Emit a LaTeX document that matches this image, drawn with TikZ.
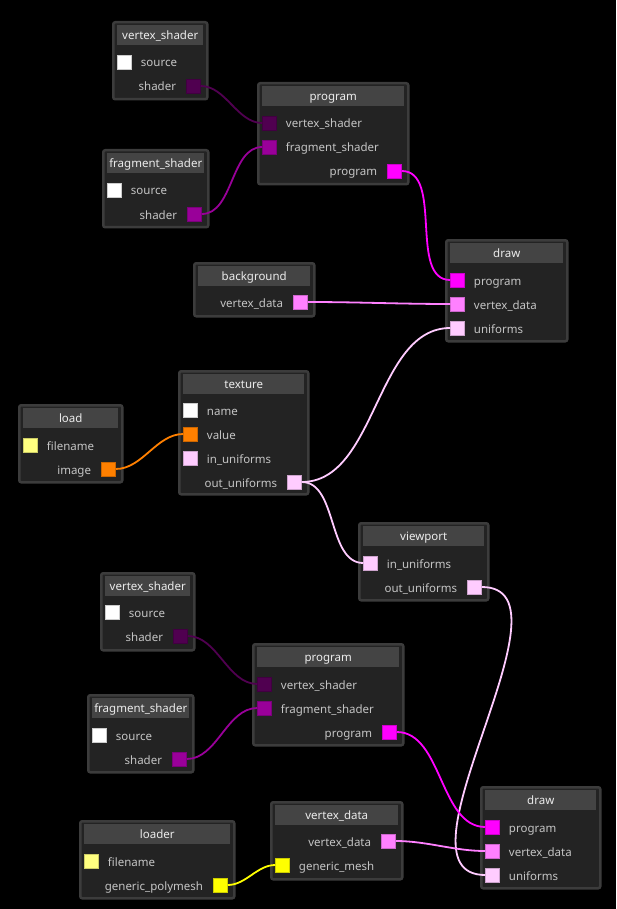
\documentclass[tikz,border=0pt]{standalone}
\usepackage{fontspec}
\setmainfont{Noto Sans}
\usetikzlibrary{positioning,calc}
\definecolor{panel}{HTML}{232323}
\definecolor{rim}{HTML}{3C3C3C}
\definecolor{bar}{HTML}{444444}
\definecolor{txt}{HTML}{C4C4C4}
\definecolor{vsh}{HTML}{500050}
\definecolor{fsh}{HTML}{990099}
\definecolor{prg}{HTML}{FF00FF}
\definecolor{vtx}{HTML}{FF80FF}
\definecolor{uni}{HTML}{FFCCFF}
\definecolor{fname}{HTML}{FFFF80}
\definecolor{img}{HTML}{FF8000}
\definecolor{msh}{HTML}{FFFF00}
\tikzset{
  nodebox/.style={draw=rim,fill=panel,line width=2.5pt,rounded corners=2pt,
    anchor=north west,inner sep=0pt},
  ttl/.style={fill=bar,anchor=north,text=white!92!black,inner sep=0pt,
    font=\fontsize{11.5}{13}\selectfont,minimum height=20pt,text height=8pt,text depth=0pt},
  port/.style={fill=#1,draw=#1!80!black,line width=0.5pt,minimum size=14pt,inner sep=0pt},
  lbl/.style={text=txt,font=\fontsize{11.5}{13}\selectfont,inner sep=0pt,
    text height=10pt,text depth=0pt},
  inlbl/.style={label={[lbl,label distance=9pt]right:#1}},
  outlbl/.style={label={[lbl,label distance=10pt]left:#1}},
  link/.style={draw=#1,line width=1.8pt,out=0,in=180,looseness=0.9},
}
\begin{document}
\begin{tikzpicture}[x=1pt,y=-1pt]
\fill[black] (0,0) rectangle (616,909);
% first pass
\node[nodebox,minimum width=94pt,minimum height=77pt] (vs1) at (112,21) {};
\node[ttl,minimum width=86pt] (vs1t) at ([yshift=-4pt]vs1.north) {vertex\_shader};
\node[port=white,inlbl=source] (vs1-src) at (124.5,62) {};
\node[port=vsh,outlbl=shader] (vs1-out) at (193.5,86) {};

\node[nodebox,minimum width=105pt,minimum height=77pt] (fs1) at (102,149) {};
\node[ttl,minimum width=97pt] (fs1t) at ([yshift=-4pt]fs1.north) {fragment\_shader};
\node[port=white,inlbl=source] (fs1-src) at (114.5,190) {};
\node[port=fsh,outlbl=shader] (fs1-out) at (194.5,214) {};

\node[nodebox,minimum width=150pt,minimum height=101pt] (prog1) at (257,82) {};
\node[ttl,minimum width=142pt] (prog1t) at ([yshift=-4pt]prog1.north) {program};
\node[port=vsh,inlbl=vertex\_shader] (prog1-vs) at (269.5,123) {};
\node[port=fsh,inlbl=fragment\_shader] (prog1-fs) at (269.5,147) {};
\node[port=prg,outlbl=program] (prog1-out) at (394.5,171) {};

\node[nodebox,minimum width=120pt,minimum height=53pt] (bg) at (193,262) {};
\node[ttl,minimum width=112pt] (bgt) at ([yshift=-4pt]bg.north) {background};
\node[port=vtx,outlbl=vertex\_data] (bg-out) at (300.5,302) {};

\node[nodebox,minimum width=121pt,minimum height=101pt] (draw1) at (445,239) {};
\node[ttl,minimum width=113pt] (draw1t) at ([yshift=-4pt]draw1.north) {draw};
\node[port=prg,inlbl=program] (draw1-prog) at (457.5,280) {};
\node[port=vtx,inlbl=vertex\_data] (draw1-vtx) at (457.5,304) {};
\node[port=uni,inlbl=uniforms] (draw1-uni) at (457.5,328) {};

\node[nodebox,minimum width=103pt,minimum height=77pt] (load) at (18,404) {};
\node[ttl,minimum width=95pt] (loadt) at ([yshift=-4pt]load.north) {load};
\node[port=fname,inlbl=filename] (load-fn) at (30.5,445) {};
\node[port=img,outlbl=image] (load-out) at (108.5,469) {};

\node[nodebox,minimum width=129pt,minimum height=123pt] (tex) at (178,370) {};
\node[ttl,minimum width=121pt] (text) at ([yshift=-4pt]tex.north) {texture};
\node[port=white,inlbl=name] (tex-name) at (190.5,410) {};
\node[port=img,inlbl=value] (tex-val) at (190.5,434) {};
\node[port=uni,inlbl=in\_uniforms] (tex-in) at (190.5,458) {};
\node[port=uni,outlbl=out\_uniforms] (tex-out) at (294.5,482) {};

\node[nodebox,minimum width=129pt,minimum height=77pt] (vp) at (358,522) {};
\node[ttl,minimum width=121pt] (vpt) at ([yshift=-4pt]vp.north) {viewport};
\node[port=uni,inlbl=in\_uniforms] (vp-in) at (370.5,563) {};
\node[port=uni,outlbl=out\_uniforms] (vp-out) at (474.5,587) {};
% second pass
\node[nodebox,minimum width=93pt,minimum height=77pt] (vs2) at (100,572) {};
\node[ttl,minimum width=85pt] (vs2t) at ([yshift=-4pt]vs2.north) {vertex\_shader};
\node[port=white,inlbl=source] (vs2-src) at (112.5,612) {};
\node[port=vsh,outlbl=shader] (vs2-out) at (180.5,636) {};

\node[nodebox,minimum width=105pt,minimum height=77pt] (fs2) at (87,694) {};
\node[ttl,minimum width=97pt] (fs2t) at ([yshift=-4pt]fs2.north) {fragment\_shader};
\node[port=white,inlbl=source] (fs2-src) at (99.5,735) {};
\node[port=fsh,outlbl=shader] (fs2-out) at (179.5,759) {};

\node[nodebox,minimum width=150pt,minimum height=101pt] (prog2) at (252,643) {};
\node[ttl,minimum width=142pt] (prog2t) at ([yshift=-4pt]prog2.north) {program};
\node[port=vsh,inlbl=vertex\_shader] (prog2-vs) at (264.5,684) {};
\node[port=fsh,inlbl=fragment\_shader] (prog2-fs) at (264.5,708) {};
\node[port=prg,outlbl=program] (prog2-out) at (389.5,732) {};

\node[nodebox,minimum width=154pt,minimum height=77pt] (mesh) at (79,820) {};
\node[ttl,minimum width=146pt] (mesht) at ([yshift=-4pt]mesh.north) {loader};
\node[port=fname,inlbl=filename] (mesh-fn) at (91.5,861) {};
\node[port=msh,outlbl=generic\_polymesh] (mesh-out) at (220.5,885) {};

\node[nodebox,minimum width=131pt,minimum height=77pt] (vd) at (270,801) {};
\node[ttl,minimum width=123pt] (vdt) at ([yshift=-4pt]vd.north) {vertex\_data};
\node[port=vtx,outlbl=vertex\_data] (vd-out) at (388.5,841) {};
\node[port=msh,inlbl=generic\_mesh] (vd-in) at (282.5,865) {};

\node[nodebox,minimum width=119pt,minimum height=101pt] (draw2) at (480,786) {};
\node[ttl,minimum width=111pt] (draw2t) at ([yshift=-4pt]draw2.north) {draw};
\node[port=prg,inlbl=program] (draw2-prog) at (492.5,827) {};
\node[port=vtx,inlbl=vertex\_data] (draw2-vtx) at (492.5,851) {};
\node[port=uni,inlbl=uniforms] (draw2-uni) at (492.5,875) {};
% links
\draw[link=vsh] (vs1-out) to (prog1-vs);
\draw[link=fsh] (fs1-out) to (prog1-fs);
\draw[link=prg] (prog1-out) to (draw1-prog);
\draw[link=vtx] (bg-out) to (draw1-vtx);
\draw[link=uni] (tex-out) to (draw1-uni);
\draw[link=img] (load-out) to (tex-val);
\draw[link=uni] (tex-out) to (vp-in);
\draw[link=uni] (vp-out) to (draw2-uni);
\draw[link=vsh] (vs2-out) to (prog2-vs);
\draw[link=fsh] (fs2-out) to (prog2-fs);
\draw[link=prg] (prog2-out) to (draw2-prog);
\draw[link=vtx] (vd-out) to (draw2-vtx);
\draw[link=msh] (mesh-out) to (vd-in);
\end{tikzpicture}
\end{document}
